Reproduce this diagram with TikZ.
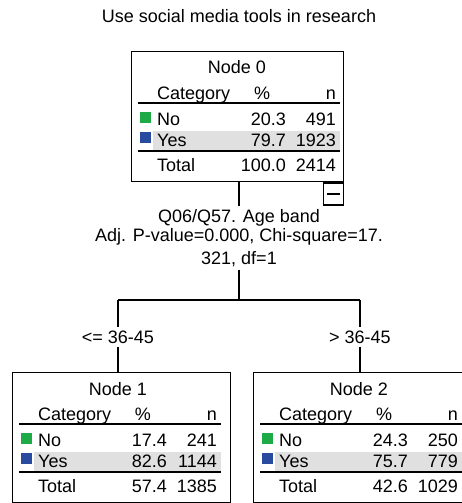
\documentclass[tikz,border=0pt]{standalone}
\usepackage{fontspec}
\setsansfont{Liberation Sans}
\usepackage{tikz}
\definecolor{catgreen}{RGB}{30,170,70}
\definecolor{catblue}{RGB}{40,75,160}
\definecolor{rowgrey}{RGB}{224,224,224}

% one tree node: name, north west corner, width, title
\newcommand{\statbox}[4]{%
  \node[box, minimum width=#3, anchor=north west] (#1) at (#2) {};
  \fill[rowgrey] ([shift={(22,80)}]#1.north west) rectangle ++(187,19);
  \draw[rule] ([shift={(7,52)}]#1.north west) -- ++(202,0);
  \draw[rule, line width=1.8pt] ([shift={(7,100)}]#1.north west) -- ++(202,0);
  \fill[catgreen] ([shift={(9,61)}]#1.north west) rectangle ++(11,11);
  \fill[catblue] ([shift={(9,81)}]#1.north west) rectangle ++(11,11);
  \node[cell, anchor=base] at ([shift={(106,23)}]#1.north west) {#4};
  \node[cell, anchor=base west] at ([shift={(26,48)}]#1.north west) {Category};
  \node[cell, anchor=base] at ([shift={(131,48)}]#1.north west) {\%};
  \node[cell, anchor=base east] at ([shift={(205,48)}]#1.north west) {n};
}
% rows: name, No %, No n, Yes %, Yes n, Total %, Total n
\newcommand{\statrows}[7]{%
  \node[cell, anchor=base west] at ([shift={(26,74)}]#1.north west) {No};
  \node[cell, anchor=base east] at ([shift={(155,74)}]#1.north west) {#2};
  \node[cell, anchor=base east] at ([shift={(205,74)}]#1.north west) {#3};
  \node[cell, anchor=base west] at ([shift={(26,95)}]#1.north west) {Yes};
  \node[cell, anchor=base east] at ([shift={(155,95)}]#1.north west) {#4};
  \node[cell, anchor=base east] at ([shift={(205,95)}]#1.north west) {#5};
  \node[cell, anchor=base west] at ([shift={(26,120)}]#1.north west) {Total};
  \node[cell, anchor=base east] at ([shift={(155,120)}]#1.north west) {#6};
  \node[cell, anchor=base east] at ([shift={(205,120)}]#1.north west) {#7};
}

\begin{document}
\begin{tikzpicture}[
        x=1pt, y=-1pt,
        font=\sffamily\fontsize{18}{19}\selectfont,
        box/.style={rectangle, draw, line width=1.4pt, minimum height=130pt, inner sep=0pt},
        rule/.style={line width=1.4pt},
        cell/.style={inner sep=0pt},
        link/.style={line width=1.2pt},
        cond/.style={fill=white, inner sep=3pt},
    ]
    \useasboundingbox (0,0) rectangle (462,503);
    \clip (0,0) rectangle (462,503);
    \fill[white] (0,0) rectangle (462,503);

    \node[cell, anchor=base] (title) at (239,23) {Use social media tools in research};

    \statbox{n0}{131,51}{212pt}{Node 0}
    \statrows{n0}{20.3}{491}{79.7}{1923}{100.0}{2414}

    \node[draw, line width=1.2pt, minimum width=20pt, minimum height=22pt, inner sep=0pt, anchor=north east] (toggle) at (n0.south east) {};
    \draw[rule] ([xshift=4pt]toggle.west) -- ([xshift=-4pt]toggle.east);

    \node[align=center, inner sep=3pt, anchor=north] (split) at (239,206)
        {Q06/Q57. Age band\\Adj. P-value=0.000, Chi-square=17.\\[4pt]321, df=1};

    \coordinate (fork) at (239,300);
    \coordinate (lfork) at (118,300);
    \coordinate (rfork) at (360,300);

    \statbox{n1}{12,372}{218pt}{Node 1}
    \statrows{n1}{17.4}{241}{82.6}{1144}{57.4}{1385}
    \statbox{n2}{253,372}{218pt}{Node 2}
    \statrows{n2}{24.3}{250}{75.7}{779}{42.6}{1029}

    \node[cond] (c1) at (118,337) {<= 36-45};
    \node[cond] (c2) at (360,337) {> 36-45};

    \draw[link] (split.north |- n0.south) -- (split.north);
    \draw[link] (split.south) -- (fork);
    \draw[link] (lfork) -- (rfork);
    \draw[link] (lfork) -- (c1.north);
    \draw[link] (c1.south) -- (c1.south |- n1.north);
    \draw[link] (rfork) -- (c2.north);
    \draw[link] (c2.south) -- (c2.south |- n2.north);
\end{tikzpicture}
\end{document}
